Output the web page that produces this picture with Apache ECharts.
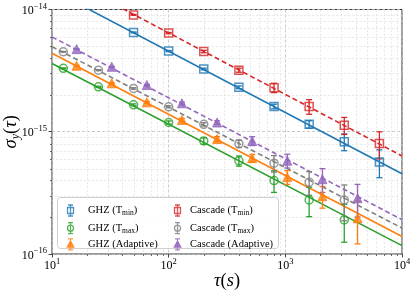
<!DOCTYPE html>
<html><head><meta charset="utf-8">
<script src="https://cdn.jsdelivr.net/npm/echarts@6/dist/echarts.min.js"></script>
<style>html,body{margin:0;padding:0;background:#fff}#c{width:415px;height:292px}</style>
</head><body><div id="c"></div>
<script>
// ---- data ----
const tauTmin = [50, 100, 200, 400, 800, 1600, 3200, 6400];
const tauTmax = [12.5, 25, 50, 100, 200, 400, 800, 1600, 3200];
const tauAdaptive = [16.25, 32.5, 65, 130, 260, 520, 1040, 2080, 4160];

const ghzTmin = [6.49e-15, 4.57e-15, 3.26e-15, 2.31e-15, 1.61e-15, 1.15e-15, 8.3e-16, 5.66e-16];
const ghzTminErr = [0.05e-15, 0.05e-15, 0.05e-15, 0.06e-15, 0.07e-15, 0.08e-15, 1.3e-16, 1.45e-16];
const cascadeTmin = [9.03e-15, 6.41e-15, 4.53e-15, 3.19e-15, 2.29e-15, 1.61e-15, 1.13e-15, 8.0e-16];
const cascadeTminErr = [0.08e-15, 0.08e-15, 0.1e-15, 0.12e-15, 0.2e-15, 0.22e-15, 0.18e-15, 0.2e-15];
const ghzTmax = [3.30e-15, 2.33e-15, 1.66e-15, 1.19e-15, 8.41e-16, 5.78e-16, 3.99e-16, 2.77e-16, 1.90e-16];
const ghzTmaxErr = [0.3e-16, 0.3e-16, 0.3e-16, 0.35e-16, 0.5e-16, 0.55e-16, 0.8e-16, 0.75e-16, 0.65e-16];
const ghzAdaptive = [3.47e-15, 2.49e-15, 1.74e-15, 1.25e-15, 8.73e-16, 6.08e-16, 4.26e-16, 2.97e-16, 1.96e-16];
const ghzAdaptiveErr = [0.3e-16, 0.3e-16, 0.3e-16, 0.35e-16, 0.4e-16, 0.45e-16, 0.55e-16, 0.6e-16, 0.75e-16];
const cascadeTmax = [4.51e-15, 3.19e-15, 2.26e-15, 1.60e-15, 1.15e-15, 7.98e-16, 5.53e-16, 3.87e-16, 2.77e-16];
const cascadeTmaxErr = [0.3e-16, 0.3e-16, 0.3e-16, 0.3e-16, 0.35e-16, 0.55e-16, 0.85e-16, 0.85e-16, 0.9e-16];
const cascadeAdaptive = [4.74e-15, 3.40e-15, 2.41e-15, 1.71e-15, 1.19e-15, 8.41e-16, 5.80e-16, 4.09e-16, 2.86e-16];
const cascadeAdaptiveErr = [0.3e-16, 0.3e-16, 0.3e-16, 0.35e-16, 0.4e-16, 0.7e-16, 0.75e-16, 0.9e-16, 0.85e-16];

// fitted power-law lines, values read at the two ends of the x range
const fitTau = [10, 10000];
const fitGhzTmin = [1.445e-14, 4.53e-16];
const fitCascadeTmin = [2.05e-14, 6.34e-16];
const fitGhzTmax = [3.62e-15, 1.17e-16];
const fitGhzAdaptive = [4.38e-15, 1.39e-16];
const fitCascadeTmax = [4.97e-15, 1.63e-16];
const fitCascadeAdaptive = [5.97e-15, 1.91e-16];

const xTicks = [10, 100, 1000, 10000];
const yTicks = [1e-16, 1e-15, 1e-14];
const seriesNames = ['GHZ (Tmin)', 'GHZ (Tmax)', 'GHZ (Adaptive)', 'Cascade (Tmin)', 'Cascade (Tmax)', 'Cascade (Adaptive)'];

// ---- styling ----
const C = {blue:'#1f77b4', orange:'#ff7f0e', green:'#2ca02c', red:'#d62728', purple:'#9467bd', gray:'#7f7f7f'};
const FONT = 'Liberation Serif';

const minorX = [];
for (let d = 0; d < xTicks.length - 1; d++) for (let k = 2; k <= 9; k++) minorX.push([k * xTicks[d], yTicks[1]]);
const minorY = [];
for (let d = 0; d < yTicks.length - 1; d++) for (let k = 2; k <= 9; k++) minorY.push([xTicks[1], k * yTicks[d]]);

const zip = (xs, ys) => xs.map((x, i) => [x, ys[i]]);
const zip3 = (xs, ys, es) => xs.map((x, i) => [x, ys[i], es[i]]);

const ICON_SQ = 'path://M1,0L6,0M3.5,0L3.5,11M1,11L6,11M0.5,2.5L6.5,2.5L6.5,8.5L0.5,8.5Z';
const ICON_CI = 'path://M1,0L6,0M3.5,0L3.5,11M1,11L6,11M0.5,5.5A3,3 0 1 0 6.5,5.5A3,3 0 1 0 0.5,5.5Z';
const ICON_TR = 'path://M1,0L6,0M3.5,0L3.5,11M1,11L6,11M3.5,2.2L6.8,8.3L0.2,8.3Z';

function errSeries(data, color) {
  return {
    type: 'custom', z: 3, silent: true, data: data, encode: {x: 0, y: 1},
    renderItem: function (params, api) {
      const x = api.value(0), y = api.value(1), e = api.value(2);
      const t = api.coord([x, y + e]);
      const b = api.coord([x, Math.max(y - e, 1e-18)]);
      const st = {stroke: color, lineWidth: 1.3};
      const cap = 3;
      return {type: 'group', children: [
        {type: 'line', shape: {x1: t[0], y1: t[1], x2: b[0], y2: b[1]}, style: st},
        {type: 'line', shape: {x1: t[0] - cap, y1: t[1], x2: t[0] + cap, y2: t[1]}, style: st},
        {type: 'line', shape: {x1: b[0] - cap, y1: b[1], x2: b[0] + cap, y2: b[1]}, style: st}
      ]};
    }
  };
}
function markSeries(name, data, color, symbol, filled) {
  return {
    name: name, type: 'scatter', z: 4, data: data, symbol: symbol,
    symbolSize: symbol === 'triangle' ? 9 : 8,
    itemStyle: filled ? {color: color, borderColor: color, borderWidth: 1}
                      : {color: 'transparent', borderColor: color, borderWidth: 1.5},
    emphasis: {disabled: true}
  };
}
function fitSeries(data, color, dashed) {
  return {
    name: 'fit', type: 'line', z: 2, data: data, symbol: 'none', silent: true, clip: true,
    lineStyle: {color: color, width: 1.6, type: dashed ? [5, 3] : 'solid'},
    emphasis: {disabled: true}
  };
}
function minorSeries(data, isX) {
  return {
    type: 'custom', z: 1, silent: true, data: data, encode: {x: 0, y: 1},
    renderItem: function (params, api) {
      const p = api.coord([api.value(0), api.value(1)]);
      const cs = params.coordSys;
      const g = {stroke: '#e2e2e2', lineWidth: 0.7, lineDash: [2.5, 1.5]};
      const tk = {stroke: '#333', lineWidth: 0.7};
      if (isX) {
        const x = Math.round(p[0]) + 0.5;
        return {type: 'group', children: [
          {type: 'line', shape: {x1: x, y1: cs.y, x2: x, y2: cs.y + cs.height}, style: g},
          {type: 'line', shape: {x1: x, y1: cs.y + cs.height, x2: x, y2: cs.y + cs.height + 2}, style: tk}
        ]};
      }
      const y = Math.round(p[1]) + 0.5;
      return {type: 'group', children: [
        {type: 'line', shape: {x1: cs.x, y1: y, x2: cs.x + cs.width, y2: y}, style: g},
        {type: 'line', shape: {x1: cs.x - 2, y1: y, x2: cs.x, y2: y}, style: tk}
      ]};
    }
  };
}

const expLabel = v => {
  const e = Math.round(Math.log10(v));
  return '{b|10}{s|' + (e < 0 ? '\u2212' + (-e) : e) + '}';
};
const tickRich = {
  b: {fontFamily: FONT, fontSize: 12, color: '#000', lineHeight: 15, verticalAlign: 'bottom'},
  s: {fontFamily: FONT, fontSize: 8.5, color: '#000', lineHeight: 9, verticalAlign: 'top'}
};
const legendFormatter = n => n.replace('(Tmin)', '(T{sub|min})').replace('(Tmax)', '(T{sub|max})');
const legendText = {
  fontFamily: FONT, fontSize: 10.5, color: '#000', lineHeight: 13,
  rich: {sub: {fontFamily: FONT, fontSize: 7.5, color: '#000', lineHeight: 7, verticalAlign: 'bottom'}}
};
function legendItem(name, icon, color, filled) {
  return {name: name, icon: icon,
    itemStyle: {color: filled ? color : 'none', borderColor: color, borderWidth: 1.3}};
}

const chart = echarts.init(document.getElementById('c'), null, {renderer: 'canvas'});
chart.setOption({
  animation: false,
  backgroundColor: '#fff',
  grid: {left: 52, right: 13, top: 9.5, bottom: 38, show: true, borderColor: '#333', borderWidth: 1,
         backgroundColor: 'transparent', containLabel: false, outerBoundsMode: 'none'},
  xAxis: {
    type: 'log', logBase: 10, min: xTicks[0], max: xTicks[xTicks.length - 1],
    axisLine: {show: false},
    axisTick: {show: true, length: 3.5, lineStyle: {color: '#333', width: 0.9}},
    splitLine: {show: true, lineStyle: {color: '#bdbdbd', width: 0.8, type: [3, 2]}},
    axisLabel: {margin: 3, formatter: expLabel, rich: tickRich},
    name: '{i|\u03c4}{p|(}{i|s}{p|)}', nameLocation: 'middle', nameGap: 16, nameMoveOverlap: false,
    nameTextStyle: {rich: {
      i: {fontFamily: FONT, fontStyle: 'italic', fontSize: 18.5, color: '#000', lineHeight: 22},
      p: {fontFamily: FONT, fontSize: 18.5, color: '#000', lineHeight: 22}}}
  },
  yAxis: {
    type: 'log', logBase: 10, min: yTicks[0], max: yTicks[yTicks.length - 1],
    axisLine: {show: false},
    axisTick: {show: true, length: 3.5, lineStyle: {color: '#333', width: 0.9}},
    splitLine: {show: true, lineStyle: {color: '#bdbdbd', width: 0.8, type: [3, 2]}},
    axisLabel: {margin: 5, formatter: expLabel, rich: tickRich},
    name: '{i|\u03c3}{sub|y}{p|(}{i|\u03c4}{p|)}', nameLocation: 'middle', nameGap: 30, nameRotate: 90, nameMoveOverlap: false,
    nameTextStyle: {rich: {
      i: {fontFamily: FONT, fontStyle: 'italic', fontSize: 18.5, color: '#000', lineHeight: 22},
      sub: {fontFamily: FONT, fontStyle: 'italic', fontSize: 12, color: '#000', lineHeight: 12, verticalAlign: 'bottom'},
      p: {fontFamily: FONT, fontSize: 18.5, color: '#000', lineHeight: 22}}}
  },
  legend: [
    {data: [legendItem(seriesNames[0], ICON_SQ, C.blue, false), legendItem(seriesNames[1], ICON_CI, C.green, false), legendItem(seriesNames[2], ICON_TR, C.orange, true)],
     orient: 'vertical', left: 65, top: 202.5, itemWidth: 25, itemHeight: 11, itemGap: 1.7, padding: 0,
     symbolKeepAspect: true, selectedMode: false, formatter: legendFormatter, textStyle: legendText, z: 6},
    {data: [legendItem(seriesNames[3], ICON_SQ, C.red, false), legendItem(seriesNames[4], ICON_CI, C.gray, false), legendItem(seriesNames[5], ICON_TR, C.purple, true)],
     orient: 'vertical', left: 172, top: 202.5, itemWidth: 15, itemHeight: 11, itemGap: 1.7, padding: 0,
     symbolKeepAspect: true, selectedMode: false, formatter: legendFormatter, textStyle: legendText, z: 6}
  ],
  graphic: [{type: 'rect', z: 5, shape: {x: 57.5, y: 197.5, width: 221, height: 51, r: 3},
             style: {fill: 'rgba(255,255,255,0.85)', stroke: '#d0d0d0', lineWidth: 1}, silent: true}],
  series: [
    minorSeries(minorX, true),
    minorSeries(minorY, false),
    fitSeries(zip(fitTau, fitGhzTmin), C.blue, false),
    fitSeries(zip(fitTau, fitGhzTmax), C.green, false),
    fitSeries(zip(fitTau, fitGhzAdaptive), C.orange, false),
    fitSeries(zip(fitTau, fitCascadeTmin), C.red, true),
    fitSeries(zip(fitTau, fitCascadeTmax), C.gray, true),
    fitSeries(zip(fitTau, fitCascadeAdaptive), C.purple, true),
    errSeries(zip3(tauTmin, ghzTmin, ghzTminErr), C.blue),
    errSeries(zip3(tauTmax, ghzTmax, ghzTmaxErr), C.green),
    errSeries(zip3(tauAdaptive, ghzAdaptive, ghzAdaptiveErr), C.orange),
    errSeries(zip3(tauTmin, cascadeTmin, cascadeTminErr), C.red),
    errSeries(zip3(tauTmax, cascadeTmax, cascadeTmaxErr), C.gray),
    errSeries(zip3(tauAdaptive, cascadeAdaptive, cascadeAdaptiveErr), C.purple),
    markSeries(seriesNames[0], zip(tauTmin, ghzTmin), C.blue, 'rect', false),
    markSeries(seriesNames[1], zip(tauTmax, ghzTmax), C.green, 'circle', false),
    markSeries(seriesNames[2], zip(tauAdaptive, ghzAdaptive), C.orange, 'triangle', true),
    markSeries(seriesNames[3], zip(tauTmin, cascadeTmin), C.red, 'rect', false),
    markSeries(seriesNames[4], zip(tauTmax, cascadeTmax), C.gray, 'circle', false),
    markSeries(seriesNames[5], zip(tauAdaptive, cascadeAdaptive), C.purple, 'triangle', true)
  ]
});
</script></body></html>
